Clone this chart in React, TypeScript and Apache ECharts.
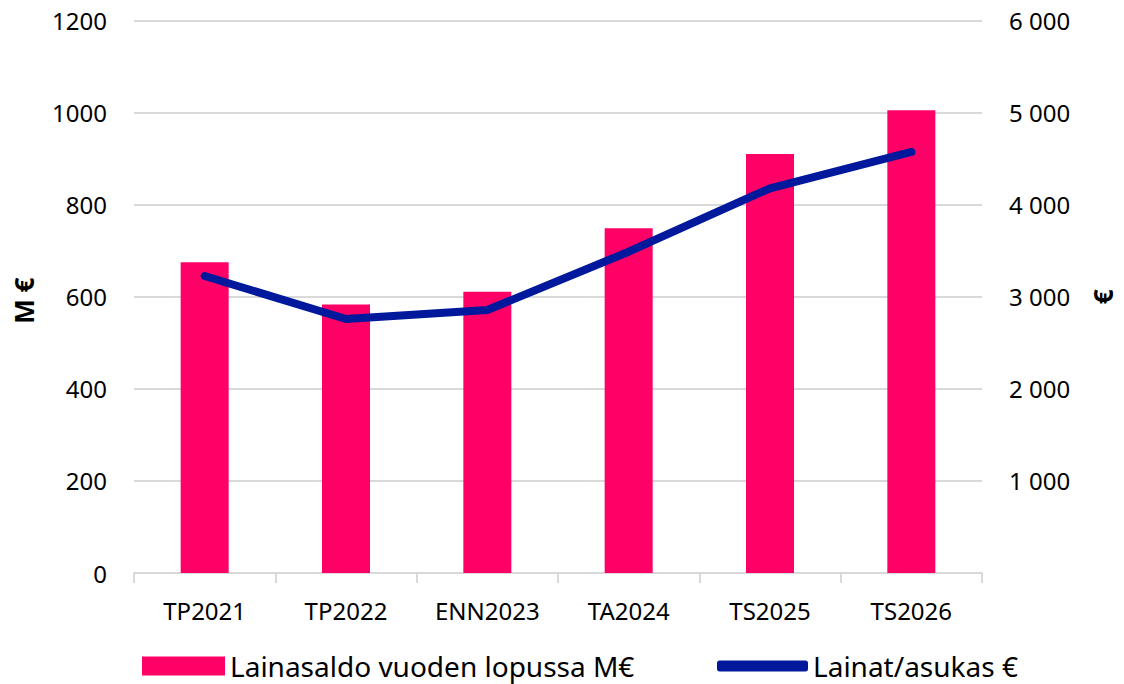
import React, { useEffect, useRef } from "react";
import * as echarts from "echarts";

const categories = ["TP2021", "TP2022", "ENN2023", "TA2024", "TS2025", "TS2026"];
const loanBalance = [675, 583, 611, 749, 910, 1005];
const loansPerResident = [3225, 2758, 2856, 3489, 4178, 4572];
const barName = "Lainasaldo vuoden lopussa M€";
const lineName = "Lainat/asukas €";

const FONT = "'Noto Sans', 'Open Sans', sans-serif";

export default function App() {
  const ref = useRef<HTMLDivElement>(null);
  useEffect(() => {
    if (!ref.current) return;
    const chart = echarts.init(ref.current, null, { renderer: "svg" });
    const fmtSpace = (v: number) =>
      v === 0 ? "" : String(v).replace(/\B(?=(\d{3})+(?!\d))/g, " ");
    chart.setOption({
      animation: false,
      textStyle: { fontFamily: FONT, color: "#000" },
      grid: { left: 134, right: 137, top: 20.5, bottom: 111, containLabel: false },
      legend: [
        {
          left: 137,
          top: 644,
          itemWidth: 83,
          itemHeight: 19,
          icon: "rect",
          data: [barName],
          textStyle: { fontSize: 28, fontFamily: FONT, color: "#000", lineHeight: 34 },
        },
        {
          left: 712,
          top: 644,
          itemWidth: 91,
          itemHeight: 11,
          icon: "roundRect",
          data: [lineName],
          textStyle: { fontSize: 28, fontFamily: FONT, color: "#000", lineHeight: 34 },
        },
      ],
      xAxis: {
        type: "category",
        data: categories,
        axisLine: { lineStyle: { color: "#D9D9D9", width: 2 } },
        axisTick: { show: true, length: 10, lineStyle: { color: "#D9D9D9", width: 2 } },
        axisLabel: { fontSize: 24, color: "#000", margin: 25, fontFamily: FONT },
      },
      yAxis: [
        {
          type: "value",
          min: 0,
          max: 1200,
          interval: 200,
          name: "M €",
          nameLocation: "middle",
          nameGap: 97,
          nameTextStyle: { fontSize: 26, fontWeight: "bold", color: "#000", fontFamily: FONT, padding: [0, 8, 0, 0] },
          axisLine: { show: false },
          axisTick: { show: false },
          axisLabel: { fontSize: 24, color: "#000", margin: 27, fontFamily: FONT, formatter: (v: number) => String(v) },
          splitLine: { lineStyle: { color: "#D9D9D9", width: 2 } },
        },
        {
          type: "value",
          min: 0,
          max: 6000,
          interval: 1000,
          name: "€",
          nameLocation: "middle",
          nameGap: 108,
          nameTextStyle: { fontSize: 26, fontWeight: "bold", color: "#000", fontFamily: FONT },
          axisLine: { show: false },
          axisTick: { show: false },
          axisLabel: { fontSize: 24, color: "#000", margin: 27, fontFamily: FONT, formatter: fmtSpace },
          splitLine: { show: false },
        },
      ],
      series: [
        {
          name: barName,
          type: "bar",
          data: loanBalance,
          barWidth: 48,
          itemStyle: { color: "#FF0066" },
          yAxisIndex: 0,
        },
        {
          name: lineName,
          type: "line",
          data: loansPerResident,
          yAxisIndex: 1,
          symbol: "none",
          showSymbol: false,
          lineStyle: { color: "#00189C", width: 8, cap: "round", join: "round" },
          itemStyle: { color: "#00189C" },
        },
      ],
    });
    return () => chart.dispose();
  }, []);
  return <div ref={ref} style={{ width: 1124, height: 684, position: "absolute", left: 0, top: 0 }} />;
}
